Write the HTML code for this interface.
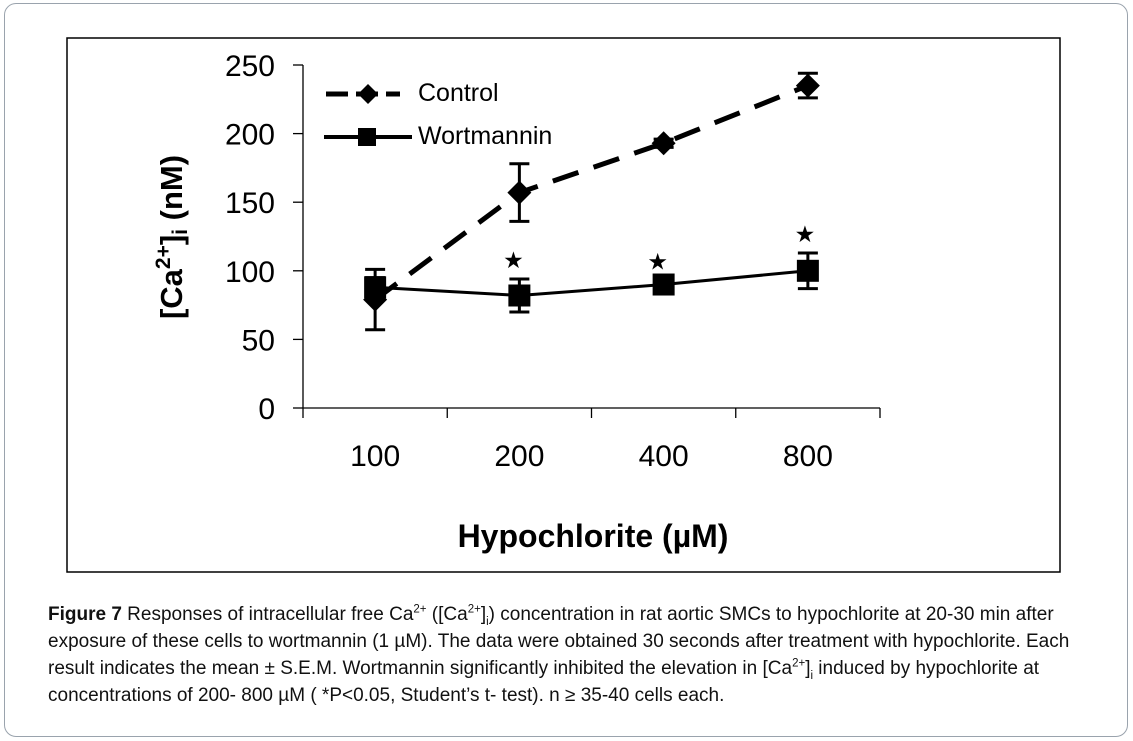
<!DOCTYPE html>
<html><head><meta charset="utf-8"><style>
body{margin:0;background:#fff;width:1133px;height:741px;overflow:hidden;font-family:"Liberation Sans",sans-serif;}
#outer{position:absolute;left:4px;top:3px;width:1122px;height:732px;border:1.5px solid #9aa3ad;border-radius:12px;}
#cap{position:absolute;left:48px;top:601px;font-size:19px;line-height:27px;color:#111;white-space:nowrap;}
#cap sup,#cap sub{font-size:11.5px;line-height:0;}
</style></head><body>
<div id="outer"></div>
<svg id="chart" width="1133" height="741" style="position:absolute;left:0;top:0">
<rect x="67" y="38" width="993" height="534" fill="none" stroke="#000" stroke-width="1.5"/>
<g id="axes"></g><g id="marks"></g>
<text x="593" y="547" font-size="32" font-weight="bold" text-anchor="middle">Hypochlorite (µM)</text>
<text transform="translate(182,237) rotate(-90)" font-size="31" font-weight="bold" text-anchor="middle">[Ca<tspan dy="-12" font-size="21">2+</tspan><tspan dy="12">]</tspan><tspan dy="5" font-size="21">i</tspan><tspan dy="-5"> (nM)</tspan></text>
<g>
<line x1="326" y1="94" x2="400" y2="94" stroke="#000" stroke-width="5" stroke-dasharray="22,8"/>
<polygon points="368,84 378,94 368,104 358,94" fill="#000"/>
<text x="418" y="101" font-size="25">Control</text>
<line x1="324" y1="137" x2="412" y2="137" stroke="#000" stroke-width="4"/>
<rect x="358" y="128" width="18" height="18" fill="#000"/>
<text x="418" y="144" font-size="25">Wortmannin</text>
</g>
</svg>
<div id="cap"><b>Figure 7</b> Responses of intracellular free Ca<sup>2+</sup> ([Ca<sup>2+</sup>]<sub>i</sub>) concentration in rat aortic SMCs to hypochlorite at 20-30 min after<br>exposure of these cells to wortmannin (1 µM). The data were obtained 30 seconds after treatment with hypochlorite. Each<br>result indicates the mean ± S.E.M. Wortmannin significantly inhibited the elevation in [Ca<sup>2+</sup>]<sub>i</sub> induced by hypochlorite at<br>concentrations of 200- 800 µM ( *P&lt;0.05, Student’s t- test). n ≥ 35-40 cells each.</div>
<script>
const categories=["100","200","400","800"];
const controlVals=[79,157,193,235];
const controlErr=[22,21,3,9];
const wortVals=[88,82,90,100];
const wortErr=[7,12,3,13];
const sig=[false,true,true,true];
const yTicks=[0,50,100,150,200,250];
const NS="http://www.w3.org/2000/svg";
const x0=303,x1=880,y0=408,yTop=65,yMax=250;
const bw=(x1-x0)/categories.length;
const X=i=>x0+bw*(i+0.5);
const Y=v=>y0-(v/yMax)*(y0-yTop);
function mk(tag,attrs,parent){const e=document.createElementNS(NS,tag);for(const k in attrs)e.setAttribute(k,attrs[k]);parent.appendChild(e);return e;}
const ax=document.getElementById('axes'),mg=document.getElementById('marks');
let e=mk('line',{x1:x0,y1:yTop,x2:x0,y2:y0,stroke:'#000','stroke-width':1.3},ax);

e=mk('line',{x1:x0,y1:y0,x2:x1,y2:y0,stroke:'#000','stroke-width':1.3},ax);

yTicks.forEach(t=>{mk('line',{x1:x0-10,y1:Y(t),x2:x0,y2:Y(t),stroke:'#000','stroke-width':1.3},ax);
const tx=mk('text',{x:x0-28,y:Y(t)+11,'font-size':30,'text-anchor':'end'},ax);tx.textContent=t;
});
for(let i=0;i<=categories.length;i++)mk('line',{x1:x0+bw*i,y1:y0,x2:x0+bw*i,y2:y0+10,stroke:'#000','stroke-width':1.3},ax);
categories.forEach((c,i)=>{const tx=mk('text',{x:X(i),y:466,'font-size':30,'text-anchor':'middle'},ax);tx.textContent=c;
});
function err(i,v,d){const g=mk('g',{stroke:'#000','stroke-width':3},mg);

mk('line',{x1:X(i),y1:Y(v+d),x2:X(i),y2:Y(v-d)},g);
mk('line',{x1:X(i)-10,y1:Y(v+d),x2:X(i)+10,y2:Y(v+d)},g);
mk('line',{x1:X(i)-10,y1:Y(v-d),x2:X(i)+10,y2:Y(v-d)},g);}
let p=mk('polyline',{points:controlVals.map((v,i)=>X(i)+','+Y(v)).join(' '),fill:'none',stroke:'#000','stroke-width':5,'stroke-dasharray':'27,16'},mg);

p=mk('polyline',{points:wortVals.map((v,i)=>X(i)+','+Y(v)).join(' '),fill:'none',stroke:'#000','stroke-width':3},mg);

controlVals.forEach((v,i)=>{err(i,v,controlErr[i]);const cx=X(i),cy=Y(v);
const d=mk('polygon',{points:`${cx},${cy-12} ${cx+12},${cy} ${cx},${cy+12} ${cx-12},${cy}`,fill:'#000'},mg);
});
wortVals.forEach((v,i)=>{err(i,v,wortErr[i]);
const r=mk('rect',{x:X(i)-11,y:Y(v)-11,width:22,height:22,fill:'#000'},mg);

if(sig[i]){const s=mk('text',{x:X(i)-6+(i==3?3:0),y:Y(v+wortErr[i])-11,'font-size':23,'text-anchor':'middle'},mg);s.textContent='★';
}});
</script>
</body></html>
